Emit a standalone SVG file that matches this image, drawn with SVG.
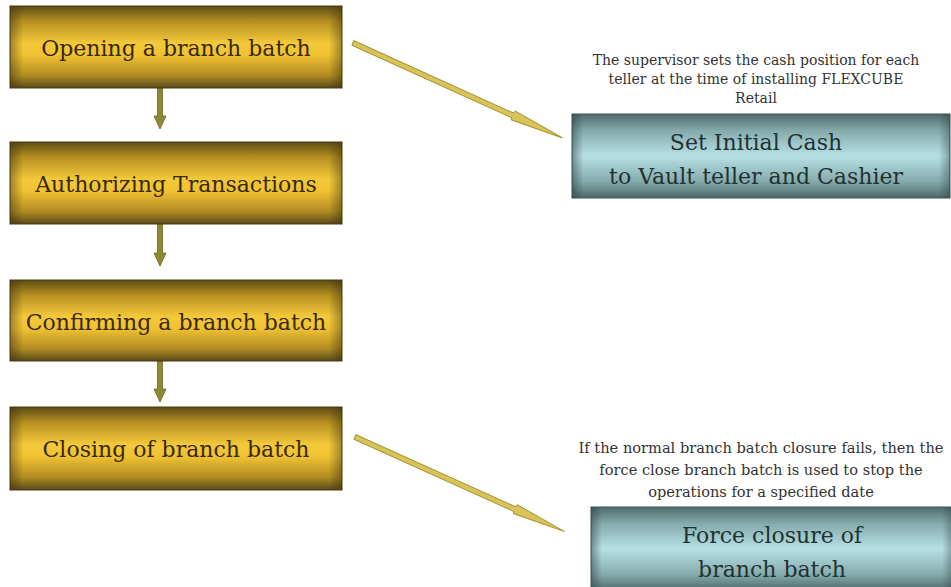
<svg xmlns="http://www.w3.org/2000/svg" width="951" height="587" viewBox="0 0 951 587">
<defs>
<linearGradient id="gold" x1="0" y1="0" x2="0" y2="1">
<stop offset="0" stop-color="#5e4c17"/>
<stop offset="0.18" stop-color="#b48d20"/>
<stop offset="0.45" stop-color="#f3c93a"/>
<stop offset="0.6" stop-color="#f0c232"/>
<stop offset="0.85" stop-color="#b08a22"/>
<stop offset="1" stop-color="#5a4a1c"/>
</linearGradient>
<linearGradient id="goldSide" x1="0" y1="0" x2="1" y2="0">
<stop offset="0" stop-color="#3a2e0c" stop-opacity="0.45"/>
<stop offset="0.04" stop-color="#3a2e0c" stop-opacity="0"/>
<stop offset="0.96" stop-color="#3a2e0c" stop-opacity="0"/>
<stop offset="1" stop-color="#3a2e0c" stop-opacity="0.45"/>
</linearGradient>
<linearGradient id="teal" x1="0" y1="0" x2="0" y2="1">
<stop offset="0" stop-color="#4f6a6a"/>
<stop offset="0.2" stop-color="#86abad"/>
<stop offset="0.5" stop-color="#b7e0e5"/>
<stop offset="0.8" stop-color="#86abad"/>
<stop offset="1" stop-color="#4d6868"/>
</linearGradient>
<linearGradient id="tealSide" x1="0" y1="0" x2="1" y2="0">
<stop offset="0" stop-color="#2a3c3c" stop-opacity="0.5"/>
<stop offset="0.03" stop-color="#2a3c3c" stop-opacity="0"/>
<stop offset="0.97" stop-color="#2a3c3c" stop-opacity="0"/>
<stop offset="1" stop-color="#2a3c3c" stop-opacity="0.4"/>
</linearGradient>
</defs>
<style>
.gbox{fill:url(#gold);stroke:#4a3c12;stroke-width:1}
.gside{fill:url(#goldSide)}
.tbox{fill:url(#teal);stroke:#3e5555;stroke-width:1}
.tside{fill:url(#tealSide)}
.gt{font-family:'DejaVu Serif',serif;text-anchor:middle;font-size:22px;fill:#3a2a08}
.tt{font-family:'DejaVu Serif',serif;text-anchor:middle;font-size:22px;fill:#1f3333}
.note{font-family:'DejaVu Serif',serif;text-anchor:middle;font-size:14px;fill:#333333}
.note2{font-family:'DejaVu Serif',serif;text-anchor:middle;font-size:14.6px;fill:#333333}
.varrow{fill:#8c8a34;stroke:#6c6a22;stroke-width:0.8}
.darrow{fill:#d8c45a;stroke:#a89430;stroke-width:1}
</style>
<rect width="951" height="587" fill="#ffffff"/>
<g id="connectors">
<path class="varrow" d="M157.5 88 H162.5 V116 H166 L160 129 L154 116 H157.5 Z"/>
<path class="varrow" d="M157.5 224 H162.5 V253 H166 L160 266 L154 253 H157.5 Z"/>
<path class="varrow" d="M157.5 361 H162.5 V389 H166 L160 402 L154 389 H157.5 Z"/>
<path class="darrow" transform="translate(353,43) rotate(24.4)" d="M0 -2.5 L175 -2.5 L176 -5 L230 0 L176 4.5 L175 2.5 L0 2.5 Z"/>
<path class="darrow" transform="translate(355,437) rotate(24.3)" d="M0 -2.5 L175 -2.5 L176 -5 L230 0 L176 4.5 L175 2.5 L0 2.5 Z"/>
</g>
<g id="node-opening">
<rect class="gbox" x="10" y="6" width="332" height="82"/>
<rect class="gside" x="10" y="6" width="332" height="82"/>
<text class="gt" x="176" y="56">Opening a branch batch</text>
</g>
<g id="node-authorizing">
<rect class="gbox" x="10" y="142" width="332" height="82"/>
<rect class="gside" x="10" y="142" width="332" height="82"/>
<text class="gt" x="176" y="192">Authorizing Transactions</text>
</g>
<g id="node-confirming">
<rect class="gbox" x="10" y="280" width="332" height="81"/>
<rect class="gside" x="10" y="280" width="332" height="81"/>
<text class="gt" x="176" y="330">Confirming a branch batch</text>
</g>
<g id="node-closing">
<rect class="gbox" x="10" y="407" width="332" height="83"/>
<rect class="gside" x="10" y="407" width="332" height="83"/>
<text class="gt" x="176" y="457">Closing of branch batch</text>
</g>
<g id="node-initial-cash">
<text class="note" x="756" y="65">The supervisor  sets the cash position for each</text>
<text class="note" x="756" y="84">teller at the time of installing FLEXCUBE</text>
<text class="note" x="756" y="103">Retail</text>
<rect class="tbox" x="572" y="114" width="378" height="84"/>
<rect class="tside" x="572" y="114" width="378" height="84"/>
<text class="tt" x="756" y="150">Set Initial Cash</text>
<text class="tt" x="756" y="184">to Vault teller and Cashier</text>
</g>
<g id="node-force-closure">
<text class="note2" x="761" y="453">If the normal branch batch closure fails, then the</text>
<text class="note2" x="761" y="475">force close branch batch is used to stop the</text>
<text class="note2" x="761" y="497">operations for a specified date</text>
<rect class="tbox" x="591" y="507" width="362" height="84"/>
<rect class="tside" x="591" y="507" width="362" height="84"/>
<text class="tt" x="772" y="543">Force closure of</text>
<text class="tt" x="772" y="577">branch batch</text>
</g>
</svg>
